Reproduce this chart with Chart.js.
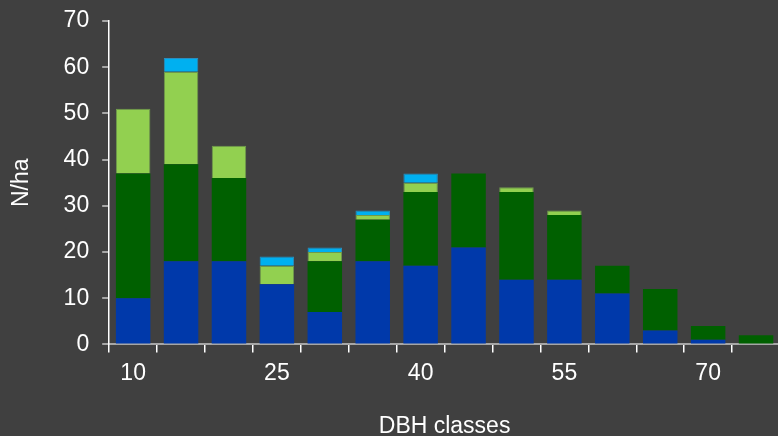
<!DOCTYPE html>
<html>
<head>
  <meta charset="utf-8">
  <title>DBH classes</title>
  <script src="https://cdn.jsdelivr.net/npm/chart.js"></script>
  <style>
    html, body {
      margin: 0;
      padding: 0;
      background: #404040;
      overflow: hidden;
    }
    #wrap {
      width: 780px;
      height: 436px;
    }
  </style>
</head>
<body>
  <div id="wrap">
    <canvas id="dbhChart"></canvas>
  </div>

  <script>
    // ------------------- DATA --------------------
    const dbhClasses = ['10', '15', '20', '25', '30', '35', '40', '45', '50', '55', '60', '65', '70', '75'];
    const shownLabels = ['10', '25', '40', '55', '70'];

    // stacked bottom to top
    const blueValues       = [10, 18, 18, 13, 7, 18, 17, 21, 14, 14, 11, 3, 1, 0];
    const darkGreenValues  = [27, 21, 18, 0, 11, 9, 16, 16, 19, 14, 6, 9, 3, 2];
    const lightGreenValues = [14, 20, 7, 4, 2, 1, 2, 0, 1, 1, 0, 0, 0, 0];
    const skyBlueValues    = [0, 3, 0, 2, 1, 1, 2, 0, 0, 0, 0, 0, 0, 0];

    const yTicks = [0, 10, 20, 30, 40, 50, 60, 70];

    Chart.defaults.font.family = '"Liberation Sans", Arial, sans-serif';
    Chart.defaults.color = '#ffffff';

    const ctx = document.getElementById('dbhChart');
    new Chart(ctx, {
      type: 'bar',
      data: {
        labels: dbhClasses,
        datasets: [
          { label: 'Series 1', data: blueValues, backgroundColor: '#0039aa', borderWidth: 0 },
          { label: 'Series 2', data: darkGreenValues, backgroundColor: '#006000', borderWidth: 0 },
          { label: 'Series 3', data: lightGreenValues, backgroundColor: '#92d050', borderColor: '#6f9a4c', borderWidth: 1 },
          { label: 'Series 4', data: skyBlueValues, backgroundColor: '#00b0f0', borderColor: '#2a8ec0', borderWidth: 1 }
        ]
      },
      options: {
        responsive: true,
        maintainAspectRatio: false,
        animation: false,
        layout: {
          padding: { top: 21, left: 8, right: 0, bottom: 0 }
        },
        plugins: {
          legend: { display: false },
          tooltip: { enabled: false }
        },
        datasets: {
          bar: { barPercentage: 0.72, categoryPercentage: 1.0 }
        },
        scales: {
          x: {
            stacked: true,
            offset: true,
            grid: {
              offset: true,
              drawOnChartArea: false,
              drawTicks: true,
              tickLength: 8,
              color: '#ffffff',
              lineWidth: 1.5
            },
            border: { color: '#a6a6a6', width: 2 },
            ticks: {
              autoSkip: false,
              maxRotation: 0,
              padding: 7,
              color: '#ffffff',
              font: { size: 23 },
              callback: function (val, i) {
                const lab = dbhClasses[i];
                return shownLabels.includes(lab) ? lab : '';
              }
            },
            title: {
              display: true,
              text: 'DBH classes',
              color: '#ffffff',
              font: { size: 23, lineHeight: 1.0 },
              padding: { top: 21, bottom: -2 }
            }
          },
          y: {
            stacked: true,
            min: 0,
            max: 70,
            afterBuildTicks: function (axis) {
              axis.ticks = yTicks.map(v => ({ value: v }));
            },
            afterFit: function (axis) {
              // let the layout padding alone decide where the top tick sits
              axis.paddingTop = 0;
              axis.paddingBottom = 0;
            },
            grid: {
              drawOnChartArea: false,
              drawTicks: true,
              tickLength: 7,
              color: '#a6a6a6',
              lineWidth: 2
            },
            border: { color: '#ffffff', width: 1.5 },
            ticks: {
              padding: 13,
              color: '#ffffff',
              font: { size: 23 }
            },
            title: {
              display: true,
              text: 'N/ha',
              color: '#ffffff',
              font: { size: 23 },
              padding: { top: 0, bottom: 15 }
            }
          }
        }
      }
    });
  </script>
</body>
</html>
